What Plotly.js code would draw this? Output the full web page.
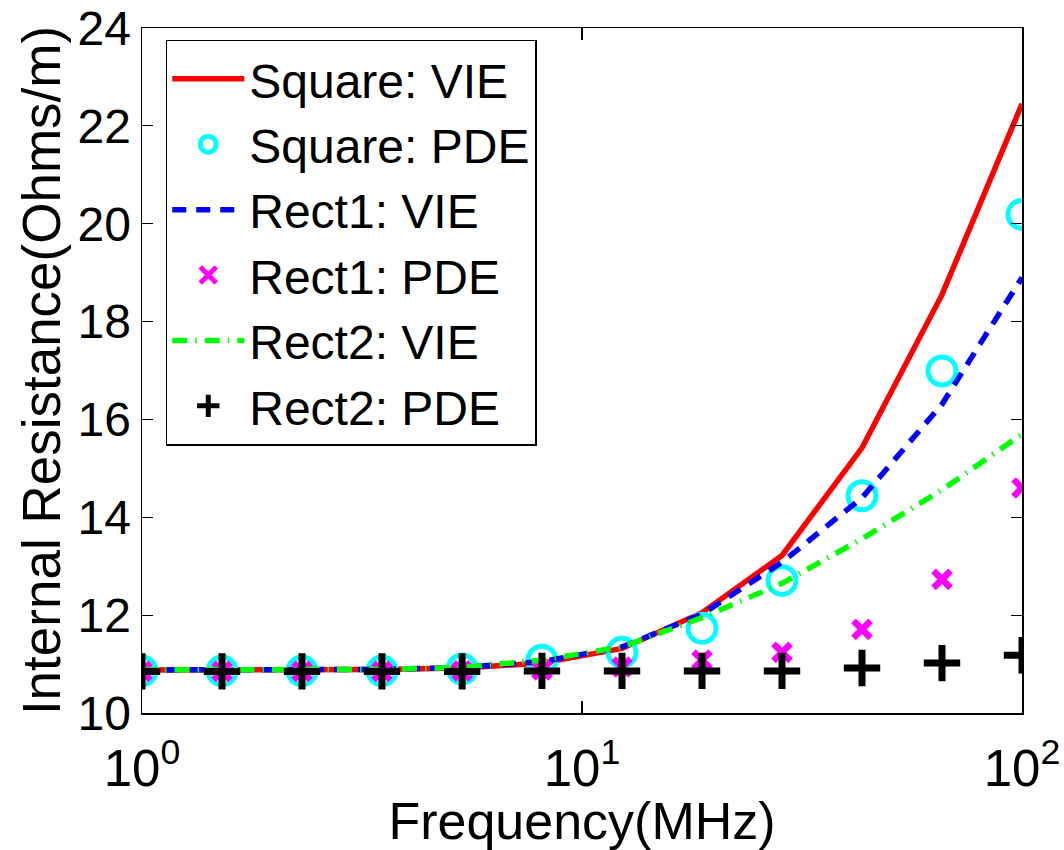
<!DOCTYPE html>
<html>
<head>
<meta charset="utf-8">
<script src="https://cdn.plot.ly/plotly-3.0.1.min.js"></script>
<style>
  html, body { margin: 0; padding: 0; background: #fff; }
  #chart { width: 1064px; height: 850px; }
</style>
</head>
<body>
<div id="chart"></div>
<script>
// Frequency sweep (MHz), log-spaced
const freq = [1, 1.52, 2.31, 3.51, 5.34, 8.11, 12.33, 18.74, 28.48, 43.29, 65.79, 100];

// Internal resistance (Ohms/m) for each conductor cross-section
const squareVIE = [10.88, 10.88, 10.88, 10.89, 10.92, 11.02, 11.32, 12.05, 13.22, 15.42, 18.55, 22.45];
const squarePDE = [10.86, 10.86, 10.86, 10.86, 10.90, 11.08, 11.24, 11.73, 12.71, 14.44, 16.99, 20.19];
const rect1VIE  = [10.88, 10.88, 10.88, 10.89, 10.93, 11.05, 11.35, 12.02, 13.08, 14.40, 16.31, 18.90];
const rect1PDE  = [10.85, 10.85, 10.85, 10.85, 10.86, 10.88, 10.94, 11.08, 11.24, 11.71, 12.73, 14.60];
const rect2VIE  = [10.88, 10.88, 10.88, 10.89, 10.93, 11.08, 11.35, 11.95, 12.65, 13.56, 14.56, 15.70];
const rect2PDE  = [10.85, 10.85, 10.85, 10.85, 10.85, 10.86, 10.86, 10.86, 10.86, 10.92, 11.02, 11.18];

const seriesNames = ['Square: VIE', 'Square: PDE', 'Rect1: VIE', 'Rect1: PDE', 'Rect2: VIE', 'Rect2: PDE'];
// Decade labels written as powers of ten
const xTickAlias = { '1': '10<sup>0</sup>', '10': '10<sup>1</sup>', '100': '10<sup>2</sup>' };
// Intermediate (minor) log ticks inside each decade
const xMinorVals = [2, 3, 4, 5, 6, 7, 8, 9, 20, 30, 40, 50, 60, 70, 80, 90];
const yTickVals = [10, 12, 14, 16, 18, 20, 22, 24];

const FONT = 'Liberation Sans, Arial, sans-serif';

const traces = [
  { x: freq, y: squareVIE, name: seriesNames[0], mode: 'lines',
    line: { color: '#ff0000', width: 5.5 } },
  { x: freq, y: squarePDE, name: seriesNames[1], mode: 'markers',
    marker: { symbol: 'circle-open', size: 28, color: '#00ffff', line: { color: '#00ffff', width: 5 } } },
  { x: freq, y: rect1VIE, name: seriesNames[2], mode: 'lines',
    line: { color: '#0000ff', width: 5.5, dash: '14px,10px' } },
  { x: freq, y: rect1PDE, name: seriesNames[3], mode: 'markers',
    marker: { symbol: 'x-thin-open', size: 17, color: '#ff00ff', line: { color: '#ff00ff', width: 6.5 } } },
  { x: freq, y: rect2VIE, name: seriesNames[4], mode: 'lines',
    line: { color: '#00ff00', width: 5.5, dash: '15px,8px,1.5px,8px' } },
  { x: freq, y: rect2PDE, name: seriesNames[5], mode: 'markers',
    marker: { symbol: 'cross-thin-open', size: 26, color: '#000000', line: { color: '#000000', width: 7 } } }
];

const layout = {
  width: 1064,
  height: 850,
  paper_bgcolor: '#ffffff',
  plot_bgcolor: '#ffffff',
  margin: { l: 142, r: 42, t: 28, b: 137 },
  font: { family: FONT, color: '#000000', size: 48 },
  showlegend: true,
  legend: {
    x: 0.027, y: 0.983, xanchor: 'left', yanchor: 'top',
    bgcolor: '#ffffff', bordercolor: '#000000', borderwidth: 1.5,
    font: { family: FONT, size: 48, color: '#000000' },
    itemwidth: 72, tracegroupgap: 0
  },
  xaxis: {
    type: 'log',
    range: [0, 2],
    tickmode: 'linear', tick0: 0, dtick: 1,
    labelalias: xTickAlias,
    ticks: 'inside', ticklen: 12, tickwidth: 1.2, tickcolor: '#000000',
    ticklabelstandoff: 10,
    showline: true, linecolor: '#000000', linewidth: 1.5, mirror: 'ticks',
    showgrid: false, zeroline: false,
    tickfont: { family: FONT, size: 51 },
    title: { text: 'Frequency(MHz)', font: { family: FONT, size: 52 }, standoff: 4 }
  },
  // Overlay axis carrying only the short intermediate ticks (bottom and top)
  xaxis2: {
    type: 'log',
    range: [0, 2],
    overlaying: 'x',
    anchor: 'y',
    side: 'bottom',
    tickmode: 'array',
    tickvals: xMinorVals,
    showticklabels: false,
    ticks: 'inside', ticklen: 7, tickwidth: 1.2, tickcolor: '#000000',
    showline: true, linecolor: '#000000', linewidth: 1.5, mirror: 'ticks',
    showgrid: false, zeroline: false
  },
  yaxis: {
    range: [10, 24],
    tickvals: yTickVals,
    ticks: 'inside', ticklen: 11, tickwidth: 1.2, tickcolor: '#000000',
    showline: true, linecolor: '#000000', linewidth: 1.5, mirror: 'ticks',
    showgrid: false, zeroline: false,
    tickfont: { family: FONT, size: 48 },
    title: { text: 'Internal Resistance(Ohms/m)', font: { family: FONT, size: 53 }, standoff: 0 }
  }
};

Plotly.newPlot('chart', traces, layout, { staticPlot: true, displayModeBar: false });
</script>
</body>
</html>
